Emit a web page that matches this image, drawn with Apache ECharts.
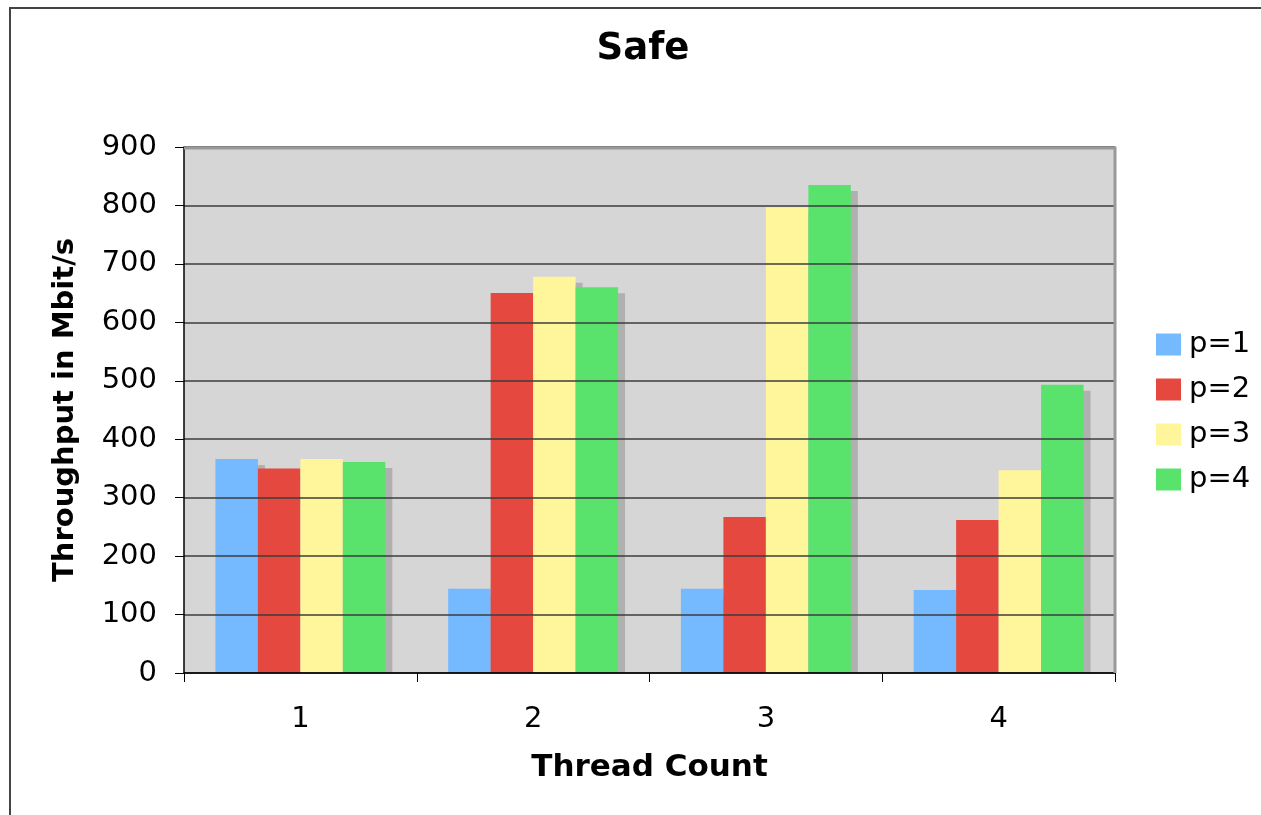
<!DOCTYPE html>
<html>
<head>
<meta charset="utf-8">
<script src="https://cdn.jsdelivr.net/npm/echarts@6/dist/echarts.min.js"></script>
<style>
  html, body { margin: 0; padding: 0; background: #fff; }
  #chart { width: 1261px; height: 815px; }
</style>
</head>
<body>
<div id="chart"></div>
<script>
// Throughput per thread count, one series per p value
const threadCounts = ['1', '2', '3', '4'];
const seriesNames = ['p=1', 'p=2', 'p=3', 'p=4'];
const p1 = [366, 144, 144, 142];
const p2 = [350, 650, 267, 262];
const p3 = [366, 678, 797, 347];
const p4 = [361, 660, 835, 493];
const yTicks = [0, 100, 200, 300, 400, 500, 600, 700, 800, 900];

const colors = ['#75b9ff', '#e4483f', '#fff59a', '#5ae36c'];
const values = [p1, p2, p3, p4];
const FONT = 'DejaVu Sans, Verdana, sans-serif';
const CATEGORY_GAP = 0.27;      // share of each category band left empty
const SHADOW_DX = 7, SHADOW_DY = 6;

const chart = echarts.init(document.getElementById('chart'), null, { renderer: 'canvas' });

const GRID = { left: 184, top: 147, right: 1261 - 1115, bottom: 815 - 673 };

// Flattened [categoryIndex, seriesIndex, value] rows for the drop shadows
const shadowData = [];
values.forEach((vals, s) => vals.forEach((v, c) => shadowData.push([c, s, v])));

function renderShadow(params, api) {
  const c = api.value(0), s = api.value(1), v = api.value(2);
  const band = api.size([1, 0])[0];
  const barW = band * (1 - CATEGORY_GAP) / seriesNames.length;
  const center = api.coord([c, 0]);
  const top = api.coord([c, v]);
  const x0 = center[0] - band * (1 - CATEGORY_GAP) / 2 + s * barW;
  return {
    type: 'rect',
    shape: { x: x0 + SHADOW_DX, y: top[1] + SHADOW_DY, width: barW, height: center[1] - top[1] },
    style: { fill: '#b0b0b0' }
  };
}

chart.setOption({
  animation: false,
  backgroundColor: '#ffffff',
  title: {
    text: 'Safe',
    left: 643, top: 31, textAlign: 'center', padding: 0,
    textStyle: { fontFamily: FONT, fontSize: 37, fontWeight: 'bold', color: '#000' }
  },
  legend: {
    orient: 'vertical',
    left: 1156, top: 330, padding: 0,
    itemWidth: 25, itemHeight: 22, itemGap: 16,
    icon: 'rect',
    textStyle: { fontFamily: FONT, fontSize: 29, color: '#000', padding: [0, 0, 0, 3] },
    data: seriesNames
  },
  graphic: [
    // outer chart frame
    { type: 'rect', shape: { x: 10, y: 8, width: 1300, height: 900 },
      style: { fill: null, stroke: '#444', lineWidth: 2 }, silent: true, z: 100 },
    // plot area frame (top and right)
    { type: 'polyline', shape: { points: [[184, 148], [1115, 148], [1115, 673]] },
      style: { stroke: '#999', lineWidth: 3, fill: null }, silent: true, z: 50 }
  ],
  grid: Object.assign({ show: true, backgroundColor: '#d6d6d6', borderWidth: 0 }, GRID),
  xAxis: {
    type: 'category',
    data: threadCounts,
    name: 'Thread Count',
    nameLocation: 'middle',
    nameGap: 79,
    nameTextStyle: { fontFamily: FONT, fontSize: 31, fontWeight: 'bold', color: '#000' },
    axisLine: { show: true, lineStyle: { color: '#000', width: 1.5 } },
    axisTick: { show: true, length: 9, lineStyle: { color: '#000' } },
    axisLabel: { fontFamily: FONT, fontSize: 29, color: '#000', margin: 32 },
    z: 10
  },
  yAxis: {
    type: 'value',
    min: 0, max: 900, interval: 100,
    name: 'Throughput in Mbit/s',
    nameLocation: 'middle',
    nameGap: 104,
    nameTextStyle: { fontFamily: FONT, fontSize: 29, fontWeight: 'bold', color: '#000' },
    axisLine: { show: true, lineStyle: { color: '#000', width: 1.5 } },
    axisTick: { show: true, length: 9, lineStyle: { color: '#000' } },
    axisLabel: {
      fontFamily: FONT, fontSize: 29, color: '#000', margin: 27,
      formatter: v => (yTicks.indexOf(v) >= 0 ? String(v) : '')
    },
    splitLine: { show: true, lineStyle: { color: '#3c3c3c', width: 1.5 } },
    z: 10
  },
  series: [
    {
      name: 'shadow',
      type: 'custom',
      renderItem: renderShadow,
      data: shadowData,
      clip: true,
      silent: true,
      z: 1
    }
  ].concat(seriesNames.map((name, i) => ({
    name,
    type: 'bar',
    data: values[i],
    barGap: '0%',
    barCategoryGap: (CATEGORY_GAP * 100) + '%',
    itemStyle: { color: colors[i] },
    z: 2
  })))
});
</script>
</body>
</html>
